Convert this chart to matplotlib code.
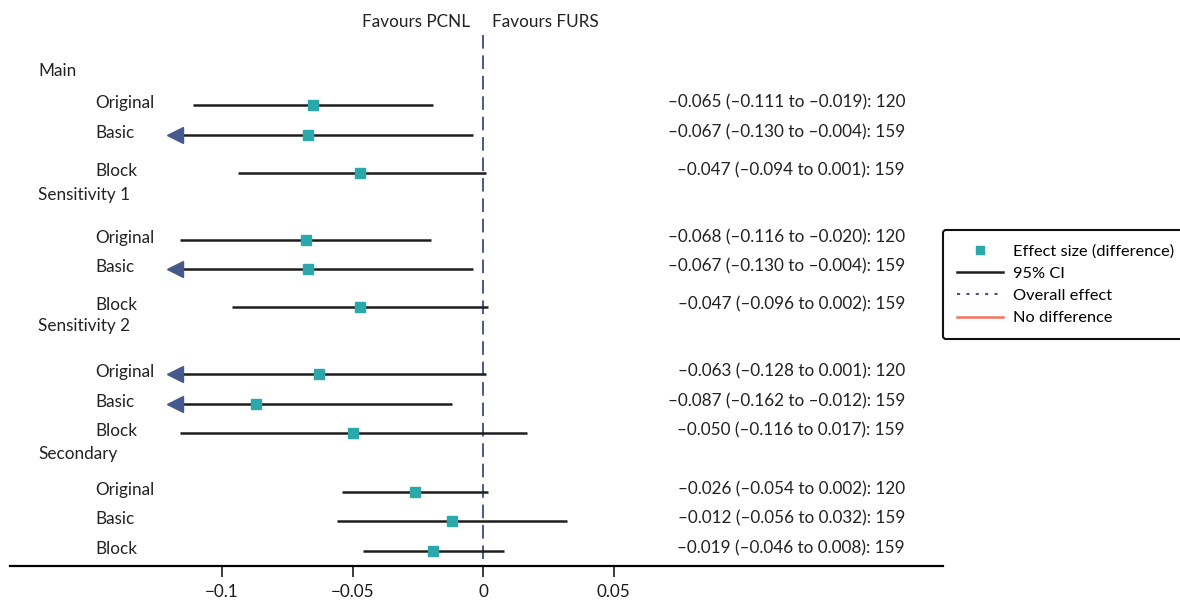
import matplotlib.pyplot as plt
from matplotlib.lines import Line2D

plt.rcParams['font.family'] = ['Lato', 'DejaVu Sans']
plt.rcParams['font.size'] = 12.3

groups = ['Main', 'Sensitivity 1', 'Sensitivity 2', 'Secondary']
methods = ['Original', 'Basic', 'Block']
n = [120, 159, 159]

est = [-0.065, -0.067, -0.047,
       -0.068, -0.067, -0.047,
       -0.063, -0.087, -0.050,
       -0.026, -0.012, -0.019]
lo = [-0.111, -0.130, -0.094,
      -0.116, -0.130, -0.096,
      -0.128, -0.162, -0.116,
      -0.054, -0.056, -0.046]
hi = [-0.019, -0.004, 0.001,
      -0.020, -0.004, 0.002,
      0.001, -0.012, 0.017,
      0.002, 0.032, 0.008]

xticks = [-0.1, -0.05, 0, 0.05]
clip = -0.12        # lower bounds below this are drawn as arrows
arrow_base = -0.1153

# layout (y in pixels from top)
group_y = [71, 195, 326, 454]
row_y = [105, 135, 173, 240, 269, 307, 374, 404, 433, 492, 521, 551]

teal = '#2aa8aa'
navy = '#46598c'

W, H = 1180, 601
fig = plt.figure(figsize=(W / 100, H / 100), dpi=100)
ax_l, ax_r, ax_b = 10, 943, 566
ax = fig.add_axes([ax_l / W, (H - ax_b) / H, (ax_r - ax_l) / W, ax_b / H])
ppu = 2610.0
x0 = 483
ax.set_xlim((ax_l - x0) / ppu, (ax_r - x0) / ppu)
ax.set_ylim(ax_b, 0)

def px(x):
    return (x - x0) / ppu

for s in ['top', 'right', 'left']:
    ax.spines[s].set_visible(False)
ax.spines['bottom'].set_linewidth(1.6)
ax.set_yticks([])
ax.set_xticks(xticks)
ax.set_xticklabels(['\u22120.1', '\u22120.05', '0', '0.05'])
ax.tick_params(axis='x', length=8, width=1.2, pad=5, labelsize=12.3, colors='#1a1a1a')

ax.plot([0, 0], [35, ax_b], color=navy, lw=1.4, ls=(0, (7, 3.5)), zorder=1)

ax.text(px(470), 22, 'Favours PCNL', ha='right', va='center', color='#222222')
ax.text(px(492), 22, 'Favours FURS', ha='left', va='center', color='#222222')

for g, gy in zip(groups, group_y):
    ax.text(px(38), gy, g, ha='left', va='center', color='#222222', clip_on=False)

for i in range(len(est)):
    y = row_y[i]
    m = i % 3
    ax.text(px(95), y - 2, methods[m], ha='left', va='center', color='#222222')
    left = lo[i]
    if left < clip:
        left = arrow_base
        ax.plot(arrow_base - 0.0028, y, marker='<', ms=11.5, color=navy, mec=navy, zorder=3)
    ax.plot([left, hi[i]], [y, y], color='#1e1e1e', lw=1.8, solid_capstyle='butt', zorder=2)
    ax.plot(est[i], y, marker='s', ms=7.5, color=teal, mec=teal, zorder=4)
    lab = '%.3f (%.3f to %.3f): %d' % (est[i], lo[i], hi[i], n[m])
    lab = lab.replace('-', '\u2013')
    ax.text(px(905), y - 3, lab, ha='right', va='center', color='#222222')

handles = [
    Line2D([], [], marker='s', ms=6, color=teal, ls='none'),
    Line2D([], [], color='#1e1e1e', lw=1.8),
    Line2D([], [], color=navy, lw=1.5, ls=(0, (1.5, 3))),
    Line2D([], [], color='#f4735f', lw=1.8),
]
labels = ['Effect size (difference)', '95% CI', 'Overall effect', 'No difference']
leg = fig.legend(handles, labels, loc='upper left', bbox_to_anchor=(943 / W, 1 - 230 / H),
                 frameon=True, fancybox=True, edgecolor='#111111', framealpha=1,
                 borderpad=0.85, handlelength=2.8, handletextpad=0.6, labelspacing=0.48,
                 borderaxespad=0, fontsize=11.8)
leg.get_frame().set_linewidth(1.5)

fig.savefig('out.png', dpi=100)
